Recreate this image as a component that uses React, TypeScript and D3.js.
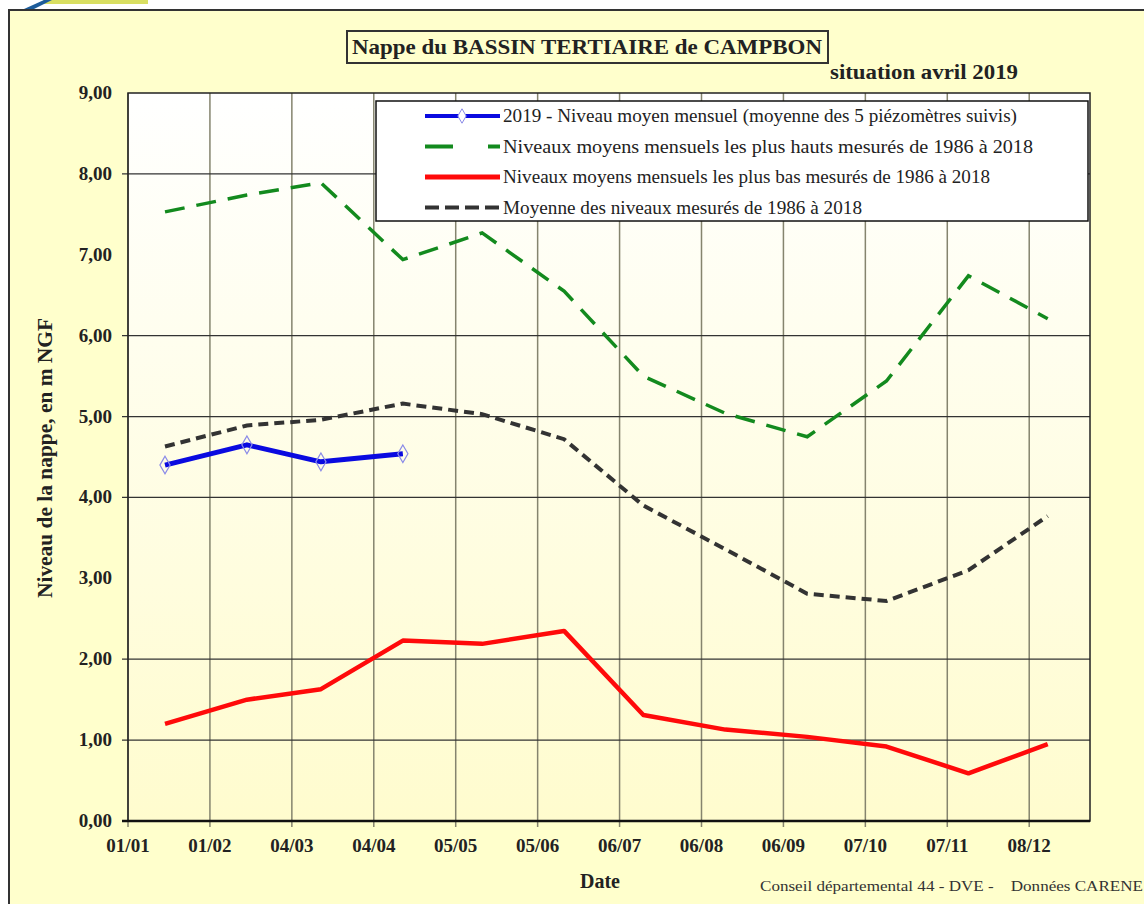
import * as d3 from 'd3';

const W = 1144;
const H = 904;

// mid-month dates of the measures (2019)
const months = ['2019-01-15', '2019-02-15', '2019-03-15', '2019-04-15', '2019-05-15', '2019-06-15',
  '2019-07-15', '2019-08-15', '2019-09-15', '2019-10-15', '2019-11-15', '2019-12-15'];

const niveau2019 = [4.40, 4.65, 4.44, 4.54];
const plusHauts = [7.53, 7.74, 7.89, 6.94, 7.27, 6.55, 5.50, 5.04, 4.75, 5.44, 6.74, 6.21];
const plusBas = [1.20, 1.50, 1.63, 2.23, 2.19, 2.35, 1.31, 1.13, 1.04, 0.92, 0.59, 0.95];
const moyenne = [4.63, 4.89, 4.96, 5.16, 5.03, 4.72, 3.90, 3.36, 2.81, 2.72, 3.10, 3.77];

const xTickDates = ['2019-01-01', '2019-02-01', '2019-03-04', '2019-04-04', '2019-05-05', '2019-06-05',
  '2019-07-06', '2019-08-06', '2019-09-06', '2019-10-07', '2019-11-07', '2019-12-08'];
const yTicks = [0, 1, 2, 3, 4, 5, 6, 7, 8, 9];
const yGrid = [1, 2, 4, 5, 6, 8];

const legendLabels = [
  '2019 - Niveau moyen mensuel (moyenne des 5 piézomètres suivis)',
  'Niveaux moyens mensuels les plus hauts mesurés de 1986 à 2018',
  'Niveaux moyens mensuels les plus bas mesurés de 1986 à 2018',
  'Moyenne des niveaux mesurés de 1986 à 2018',
];

const serif = '"Liberation Serif", "Times New Roman", serif';

const parse = d3.timeParse('%Y-%m-%d');
const fmtTick = d3.timeFormat('%d/%m');
const fmtY = (v: number) => v.toFixed(2).replace('.', ',');

const x = d3.scaleTime()
  .domain([parse('2019-01-01')!, parse('2019-12-31')!])
  .range([128, 1090]);
const y = d3.scaleLinear().domain([0, 9]).range([821, 93]);

const line = d3.line<[Date, number]>()
  .x(d => x(d[0]))
  .y(d => y(d[1]));

const pts = (vals: number[]) => vals.map((v, i) => [parse(months[i])!, v] as [Date, number]);

const App = () => {
  const [x0, x1] = x.range();
  const [yb, yt] = y.range();
  const legX = 376, legY = 101, legW = x1 - 2 - 376, legH = 120;
  const legendWidths = [514, 530, 487, 359];

  return (
    <svg width={W} height={H} style={{ position: 'absolute', left: 0, top: 0, background: '#fff' }}>
      <defs>
        <linearGradient id="plotbg" x1="0" y1="0" x2="0" y2="1">
          <stop offset="0" stopColor="#ffffff" />
          <stop offset="1" stopColor="#fffcce" />
        </linearGradient>
      </defs>
      {/* logo fragment */}
      <rect x={43} y={0} width={105} height={4} fill="#d9df62" />
      <polygon points="24,9 44,0 52,0 34,9" fill="#1d5c9a" />

      {/* frame */}
      <rect x={9} y={10} width={W} height={H} fill="#ffffcc" stroke="#333" strokeWidth={2} />

      {/* plot area */}
      <rect x={x0} y={yt} width={x1 - x0} height={yb - yt} fill="url(#plotbg)" />
      {xTickDates.map((d, i) => (
        <g key={'xg' + i}>
          <line x1={x(parse(d)!)} x2={x(parse(d)!)} y1={yt} y2={yb + 6} stroke="#85846e" strokeWidth={1.5} />
          <text x={x(parse(d)!)} y={852} textAnchor="middle" fontFamily={serif} fontWeight="bold" fontSize={19} fill="#222">
            {fmtTick(parse(d)!)}
          </text>
        </g>
      ))}
      {yGrid.map(v => (
        <line key={'yg' + v} x1={x0 - 6} x2={x1} y1={y(v)} y2={y(v)} stroke="#333" strokeWidth={1.3} />
      ))}
      {yTicks.map(v => (
        <text key={'yt' + v} x={112} y={y(v) + 6} textAnchor="end" fontFamily={serif} fontWeight="bold" fontSize={19} fill="#222">
          {fmtY(v)}
        </text>
      ))}
      <rect x={x0} y={yt} width={x1 - x0} height={yb - yt} fill="none" stroke="#222" strokeWidth={1.5} />
      <line x1={x0 - 6} x2={x1} y1={yb} y2={yb} stroke="#111" strokeWidth={2.5} />

      {/* series */}
      <path d={line(pts(plusHauts))!} fill="none" stroke="#138a1e" strokeWidth={3.5} strokeDasharray="20 12" />
      <path d={line(pts(moyenne))!} fill="none" stroke="#333" strokeWidth={4} strokeDasharray="10 6" />
      <path d={line(pts(plusBas))!} fill="none" stroke="#ff0a0a" strokeWidth={4.5} strokeLinejoin="round" />
      <path d={line(pts(niveau2019))!} fill="none" stroke="#0a0ae0" strokeWidth={5} strokeLinejoin="round" />
      {pts(niveau2019).map((p, i) => (
        <path key={'m' + i} d={d3.symbol(d3.symbolDiamond, 90)()!}
          transform={`translate(${x(p[0])},${y(p[1])})`} fill="none" stroke="#8a8ae8" strokeWidth={1.2} />
      ))}

      {/* legend */}
      <rect x={legX} y={legY} width={legW} height={legH} fill="#fff" stroke="#111" strokeWidth={1.5} />
      {legendLabels.map((t, i) => {
        const ly = legY + 15 + i * 30.5;
        return (
          <g key={'lg' + i}>
            {i === 0 && (
              <g>
                <line x1={425} x2={500} y1={ly} y2={ly} stroke="#0a0ae0" strokeWidth={4} />
                <path d={d3.symbol(d3.symbolDiamond, 60)()!} transform={`translate(462,${ly})`} fill="#fff" stroke="#8a8ae8" strokeWidth={1} />
              </g>
            )}
            {i === 1 && (
              <line x1={425} x2={500} y1={ly} y2={ly} stroke="#138a1e" strokeWidth={4} strokeDasharray="28 35 12" />
            )}
            {i === 2 && <line x1={425} x2={500} y1={ly} y2={ly} stroke="#ff0a0a" strokeWidth={5} />}
            {i === 3 && <line x1={425} x2={500} y1={ly} y2={ly} stroke="#333" strokeWidth={4} strokeDasharray="14 6" />}
            <text x={503} y={ly + 6} fontFamily={serif} fontSize={18} fill="#222"
              textLength={legendWidths[i]} lengthAdjust="spacingAndGlyphs">{t}</text>
          </g>
        );
      })}

      {/* titles */}
      <rect x={347} y={31} width={481} height={32} fill="#ffffcc" stroke="#333" strokeWidth={2} />
      <text x={352} y={54} fontFamily={serif} fontWeight="bold" fontSize={21} fill="#222"
        textLength={470} lengthAdjust="spacingAndGlyphs">Nappe du BASSIN TERTIAIRE de CAMPBON</text>
      <text x={1018} y={79} textAnchor="end" fontFamily={serif} fontWeight="bold" fontSize={20} fill="#222"
        textLength={188} lengthAdjust="spacingAndGlyphs">situation avril 2019</text>
      <text transform="translate(52,458) rotate(-90)" textAnchor="middle" fontFamily={serif} fontWeight="bold" fontSize={20} fill="#222"
        textLength={280} lengthAdjust="spacingAndGlyphs">Niveau de la nappe, en m NGF</text>
      <text x={600} y={888} textAnchor="middle" fontFamily={serif} fontWeight="bold" fontSize={20} fill="#222">Date</text>
      <text x={760} y={891} fontFamily={serif} fontSize={15} fill="#333" textLength={383} lengthAdjust="spacingAndGlyphs"
        style={{ whiteSpace: 'pre' }}>{'Conseil départemental 44 - DVE -    Données CARENE'}</text>
    </svg>
  );
};

export default App;
